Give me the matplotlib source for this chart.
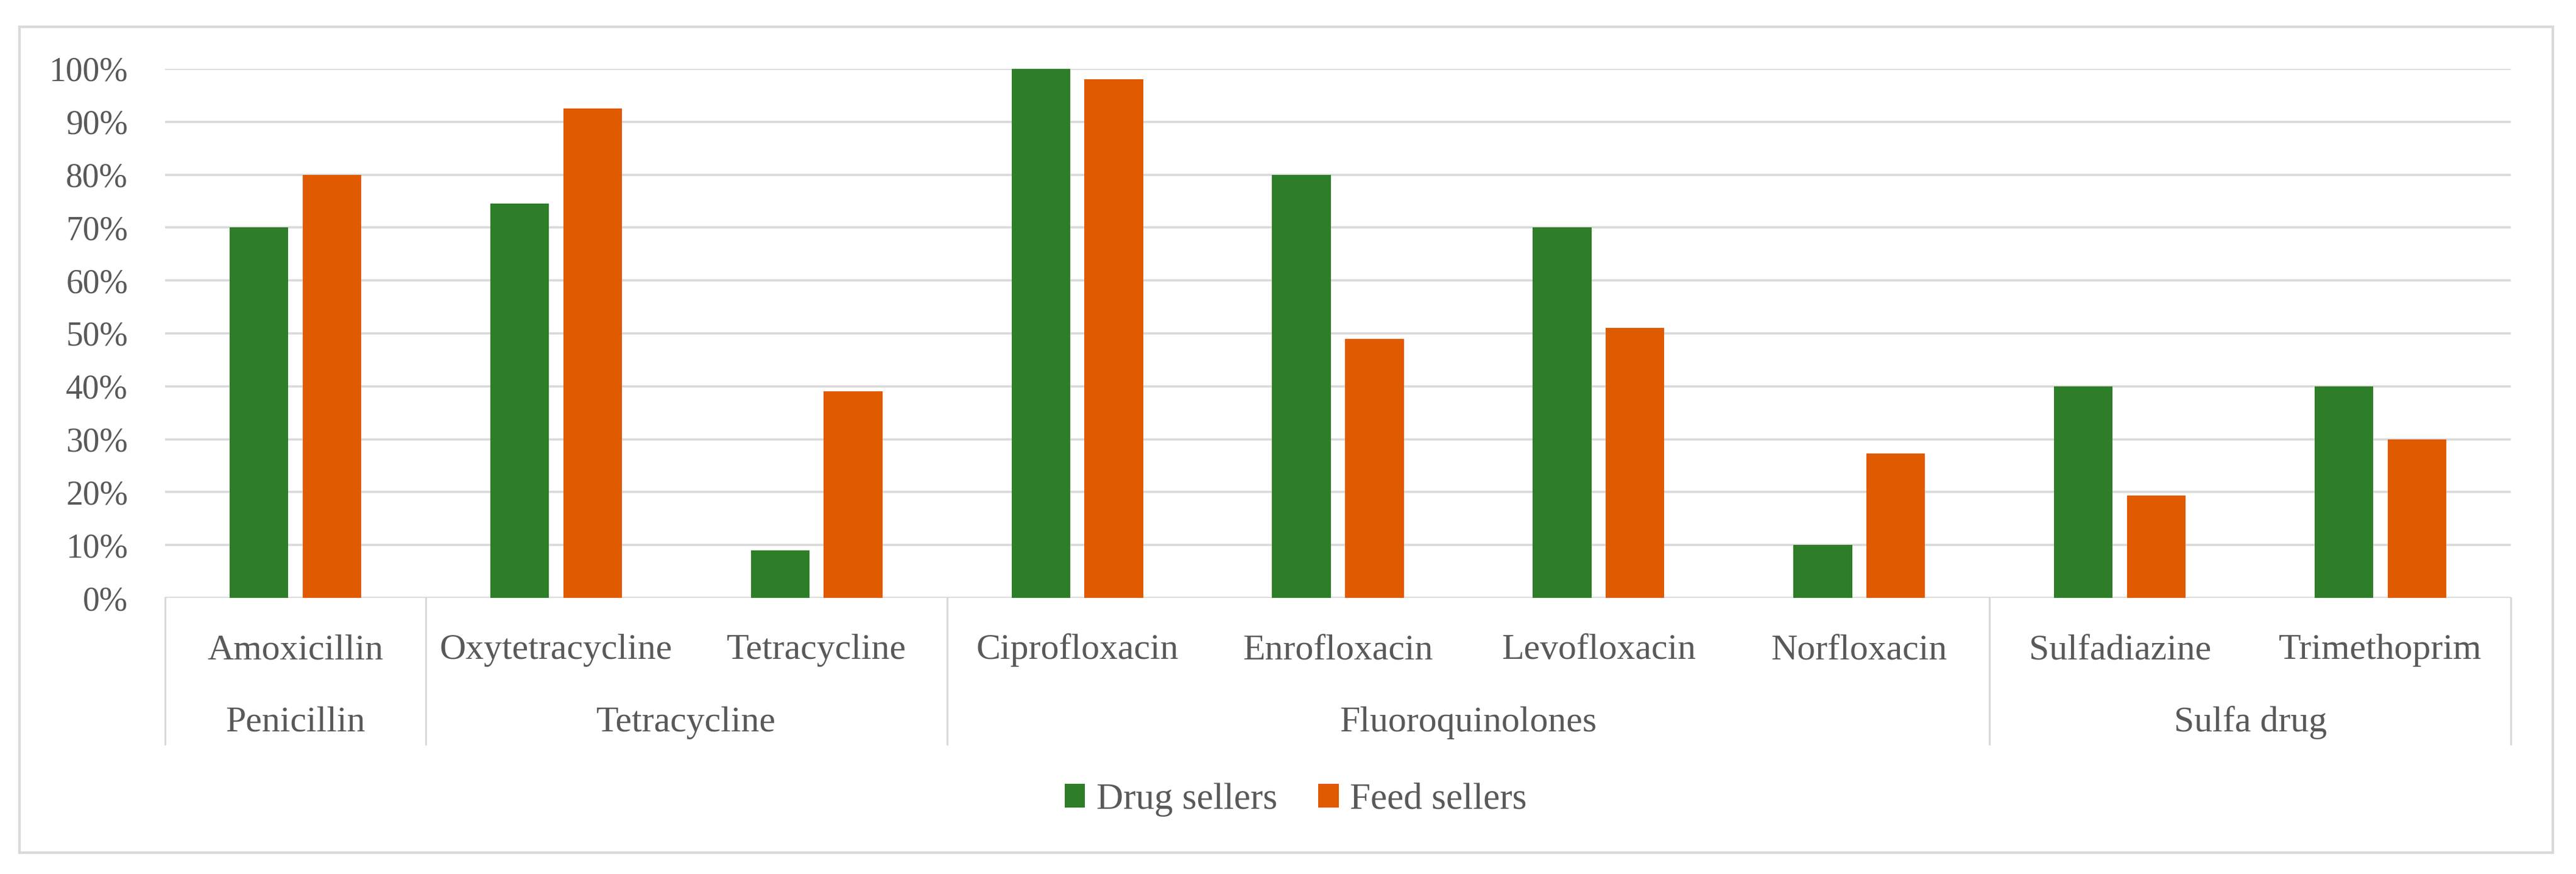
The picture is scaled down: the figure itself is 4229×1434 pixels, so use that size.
import matplotlib
matplotlib.use("Agg")
import matplotlib.pyplot as plt
import numpy as np
from matplotlib.patches import Rectangle, Patch
from matplotlib.ticker import PercentFormatter

# Data
drugs = ["Amoxicillin", "Oxytetracycline", "Tetracycline", "Ciprofloxacin",
         "Enrofloxacin", "Levofloxacin", "Norfloxacin", "Sulfadiazine", "Trimethoprim"]
groups = ["Penicillin", "Tetracycline", "Fluoroquinolones", "Sulfa drug"]
group_sizes = [1, 2, 4, 2]
drug_sellers = [70, 74.5, 9, 100, 80, 70, 10, 40, 40]
feed_sellers = [80, 92.5, 39, 98, 49, 51, 27.3, 19.3, 30]

GREEN = "#2E7D28"
ORANGE = "#E05A00"
GRID = "#D9D9D9"
TEXT = "#595959"

plt.rcParams["font.family"] = ["Liberation Serif", "DejaVu Serif"]

W, H = 4229, 1434
fig = plt.figure(figsize=(W / 100, H / 100), dpi=100)

# outer chart frame
fig.patches.append(Rectangle((32 / W, (H - 1399) / H), (4191 - 32) / W, (1399 - 44) / H,
                             transform=fig.transFigure, fill=False,
                             edgecolor=GRID, linewidth=3))

ax_left, ax_right, ax_top, ax_bottom = 271, 4122, 113, 981
ax = fig.add_axes([ax_left / W, (H - ax_bottom) / H,
                   (ax_right - ax_left) / W, (ax_bottom - ax_top) / H])

x = np.arange(len(drugs))
width = 0.225
off = 0.14
ax.bar(x - off, drug_sellers, width, color=GREEN, label="Drug sellers", zorder=3)
ax.bar(x + off, feed_sellers, width, color=ORANGE, label="Feed sellers", zorder=3)

ax.set_xlim(-0.5, len(drugs) - 0.5)
ax.set_ylim(0, 100)
ax.set_yticks(range(0, 101, 10))
ax.yaxis.set_major_formatter(PercentFormatter(decimals=0))
ax.tick_params(axis="y", length=0, pad=44, labelsize=40, labelcolor=TEXT)
ax.set_xticks([])
for s in ax.spines.values():
    s.set_visible(False)
ax.yaxis.grid(True, color=GRID, linewidth=2.6, zorder=0)
ax.set_axisbelow(True)

# multi-level category axis
span = ax_bottom - ax_top
trans = ax.get_xaxis_transform()
row1 = -(1081 - ax_bottom) / span
row2 = -(1200 - ax_bottom) / span
sep_bottom = -(1221 - ax_bottom) / span

for i, name in enumerate(drugs):
    ax.text(i, row1, name, transform=trans, ha="center", va="baseline",
            fontsize=43, color=TEXT)

start = 0
bounds = [-0.5]
for g, n in zip(groups, group_sizes):
    center = start + (n - 1) / 2
    ax.text(center, row2, g, transform=trans, ha="center", va="baseline",
            fontsize=43, color=TEXT)
    start += n
    bounds.append(start - 0.5)

for b in bounds:
    ax.plot([b, b], [0, sep_bottom], transform=trans, color=GRID,
            linewidth=2.2, clip_on=False)

handles = [Patch(facecolor=GREEN, label="Drug sellers"),
           Patch(facecolor=ORANGE, label="Feed sellers")]
fig.legend(handles=handles, loc="center", bbox_to_anchor=(0.503, 0.085), ncol=2,
           frameon=False, fontsize=44, labelcolor=TEXT, handlelength=0.55,
           handleheight=0.6, handletextpad=0.3, columnspacing=1.1)

fig.savefig("out.png", dpi=100)
